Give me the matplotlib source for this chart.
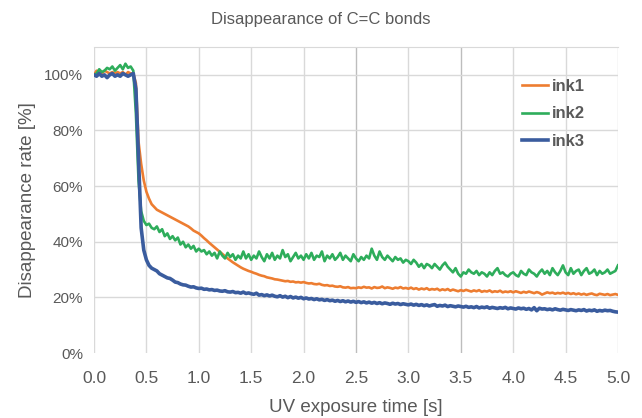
import numpy as np
import matplotlib.pyplot as plt

plt.rcParams['font.family'] = ['Liberation Sans', 'DejaVu Sans']

# sample times [s], one reading every 25 ms
time_s = np.round(np.arange(201) * 0.025, 3)

# disappearance rate [%], 20 samples per row (0.5 s)
ink1 = [
    100, 101.5, 101, 100.5, 101.5, 101, 100.5, 101, 100.5, 101, 100.5, 101, 100, 101, 100.5, 100.5, 97, 76, 68, 62,
    58, 55.5, 53.5, 52.5, 51.5, 51, 50.5, 50, 49.5, 49, 48.5, 48, 47.5, 47, 46.5, 46, 45.5, 44.8, 44, 43.5,
    43, 42.2, 41.3, 40.5, 39.6, 38.8, 38, 37.2, 36.4, 35.6, 34.8, 34, 33.3, 32.6, 32, 31.4, 30.8, 30.3, 29.9, 29.5,
    29.2, 28.8, 28.5, 28.1, 27.8, 27.6, 27.2, 27, 26.8, 26.5, 26.4, 26.2, 26, 25.8, 25.9, 25.6, 25.7, 25.4, 25.5, 25.3,
    25.5, 25.2, 25.0, 25.1, 24.8, 24.7, 24.9, 24.5, 24.3, 24.4, 24.1, 24.2, 23.9, 23.8, 24.0, 23.6, 23.5, 23.7, 23.3, 23.4,
    23.3, 23.6, 23.4, 23.8, 23.5, 23.6, 23.2, 23.7, 23.4, 23.5, 23.9, 23.3, 23.6, 23.4, 23.1, 23.5, 23.3, 23.7, 23.2, 23.4,
    23.1, 23.5, 23.0, 23.3, 22.8, 23.2, 22.9, 23.3, 22.7, 23.0, 22.8, 23.1, 22.5, 22.9, 22.6, 23.0, 22.4, 22.8, 22.5, 22.2,
    22.6, 22.3, 22.7, 22.4, 22.1, 22.5, 22.2, 22.6, 22.0, 22.3, 22.1, 22.5, 21.9, 22.2, 22.0, 22.4, 21.8, 22.1, 21.9, 22.2,
    21.8, 22.2, 21.9, 21.6, 22.0, 21.7, 22.1, 21.8, 21.5, 21.9, 21.6, 21.0, 21.4, 21.8, 21.5, 21.7, 21.3, 21.6, 21.4, 21.7,
    21.3, 21.6, 21.2, 21.5, 21.1, 21.4, 21.0, 21.3, 20.9, 21.2, 21.4, 21.0, 20.8, 21.3, 21.1, 20.9, 21.2, 20.8, 21.0, 21.2,
    20.9,
]
ink2 = [
    100, 100.5, 102, 101, 101.5, 102.5, 102, 103, 101.5, 102.5, 103.5, 102, 104, 102.5, 103, 101.5, 86, 62, 51, 47.5,
    46, 46.5, 45, 44.5, 45.5, 43.5, 44.5, 42, 43, 41, 42, 40.5, 41.5, 39, 40, 38, 39, 37.5, 38.5, 36.5,
    37.5, 36.5, 37, 35.5, 36.5, 35, 36, 34, 36.5, 35, 34, 36, 34.5, 35.5, 33.5, 35, 34, 36.5, 34, 35.5,
    33.5, 35, 34, 36.5, 34.5, 33, 35.5, 34, 36, 33.5, 35, 34, 37, 34.5, 35.5, 33, 34.5, 36, 34, 35,
    33.5, 35.5, 34, 36, 33.5, 35, 34.5, 36.5, 33, 35, 34, 35.5, 33.5, 34.5, 36, 33.5, 35, 34, 33, 35.5,
    34, 33, 34.5, 33.5, 35, 34, 37.5, 35, 33.5, 36.5, 34.5, 33.5, 35, 34, 33, 34.5, 33.5, 34, 32.5, 33.5,
    33, 32, 33.5, 32.5, 31, 32, 30.5, 32, 31.5, 30.5, 32, 31, 30, 31.5, 32.5, 31, 30, 29, 30.5, 28.5,
    27.5, 29, 28.5, 30, 29, 28.5, 29.5, 28, 29, 28.5, 27.5, 29, 28, 29.5, 30.5, 28.5, 29, 28, 27.5, 28.5,
    29, 28, 27.5, 29.5, 28.5, 28, 30, 29, 28.5, 27.5, 29, 30, 28.5, 29.5, 28, 30.5, 29, 28, 29.5, 31.5,
    29, 28, 30.5, 28.5, 29.5, 30, 28, 29.5, 30.5, 28.5, 29, 30, 28, 29.5, 28.5, 29, 30, 28.5, 29, 29.5,
    31.5,
]
ink3 = [
    100, 99.5, 100.5, 99.5, 100, 99, 100, 100.5, 99.5, 100, 99.5, 100.5, 100, 99.5, 100, 100.5, 95, 70, 45, 37,
    33.5, 31.5, 30.5, 30, 29.5, 28.5, 28, 27.5, 27, 26.8, 26.2, 25.5, 25.3, 24.8, 24.5, 24.4, 24, 23.7, 23.8, 23.4,
    23.2, 23.3, 22.9, 23, 22.7, 22.8, 22.5, 22.6, 22.3, 22.2, 22.4, 22, 21.9, 22.1, 21.7, 21.8, 21.5, 21.9, 21.4, 21.6,
    21.3, 21.1, 21.5, 20.8, 21, 20.6, 20.9, 20.5, 20.8, 20.4, 20.2, 20.6, 20.1, 20.4, 19.9, 20.3, 19.8, 20.1, 19.7, 20,
    19.5, 19.8, 19.4, 19.6, 19.2, 19.5, 19.1, 19.3, 18.9, 19.2, 18.8, 19, 18.6, 18.9, 18.5, 18.8, 18.4, 18.7, 18.3, 18.6,
    18.2, 18.5, 18.1, 18.4, 18, 18.3, 17.9, 18.2, 17.8, 18.1, 17.7, 18, 17.8, 17.5, 17.9, 17.6, 17.8, 17.4, 17.7, 17.5,
    17.3, 17.6, 17.2, 17.5, 17.1, 17.4, 17, 17.3, 16.9, 17.2, 17.4, 16.8, 17.1, 16.9, 17.2, 16.7, 17, 16.8, 16.6, 16.9,
    16.7, 16.5, 16.8, 16.4, 16.6, 16.3, 16.7, 16.2, 16.5, 16.3, 16.6, 16.1, 16.4, 16.2, 16, 16.3, 16.1, 16.4, 15.9, 16.2,
    16, 15.8, 16.2, 15.9, 16.1, 15.7, 16, 15.5, 16.3, 15.2, 16.1, 15.8, 15.9, 15.6, 15.8, 15.5, 15.9, 15.6, 15.4, 15.7,
    15.5, 15.3, 15.6, 15.4, 15.2, 15.5, 15.3, 15.6, 15.1, 15.4, 15.2, 15.5, 15, 15.3, 15.1, 15.4, 15.2, 15.3, 15.0, 14.8,
    14.7,
]

x_ticks = [0.0, 0.5, 1.0, 1.5, 2.0, 2.5, 3.0, 3.5, 4.0, 4.5, 5.0]
y_ticks = [0, 20, 40, 60, 80, 100]

txt = '#595959'
grid = '#d9d9d9'
fig = plt.figure(figsize=(6.42, 4.18), dpi=100)
ax = fig.add_axes([0.1464, 0.1555, 0.8162, 0.732])

ax.plot(time_s, ink1, color='#ED7D31', lw=1.9, label='ink1', zorder=3)
ax.plot(time_s, ink2, color='#2EAD5B', lw=1.9, label='ink2', zorder=3)
ax.plot(time_s, ink3, color='#3A5C9E', lw=2.6, label='ink3', zorder=4)

ax.set_xlim(0, 5)
ax.set_ylim(0, 110)
ax.set_xticks(x_ticks)
ax.set_xticklabels([f'{v:.1f}' for v in x_ticks])
ax.set_yticks(y_ticks)
ax.set_yticklabels([f'{v}%' for v in y_ticks])
ax.tick_params(length=0, colors=txt)
ax.tick_params(axis='x', labelsize=12.5, pad=13)
ax.tick_params(axis='y', labelsize=11, pad=8)

ax.grid(True, color=grid, lw=1)
ax.set_axisbelow(True)
ax.get_ygridlines()[0].set_visible(False)
for i in (5, 7):
    ax.get_xgridlines()[i].set_color('#bdbdbd')
for s in ax.spines.values():
    s.set_visible(False)
ax.spines['top'].set_visible(True)
ax.spines['top'].set_color(grid)

ax.set_xlabel('UV exposure time [s]', color=txt, fontsize=13.5, labelpad=9)
ax.set_ylabel('Disappearance rate [%]', color=txt, fontsize=13.5, labelpad=6)
fig.suptitle('Disappearance of C=C bonds', color=txt, fontsize=12, x=0.5, y=0.972)

leg = ax.legend(loc='upper right', bbox_to_anchor=(0.965, 0.945), frameon=False,
                handlelength=1.6, handletextpad=0.2, labelspacing=0.75,
                prop={'weight': 'bold', 'size': 12})
for t in leg.get_texts():
    t.set_color(txt)

fig.savefig('out.png', dpi=100)
